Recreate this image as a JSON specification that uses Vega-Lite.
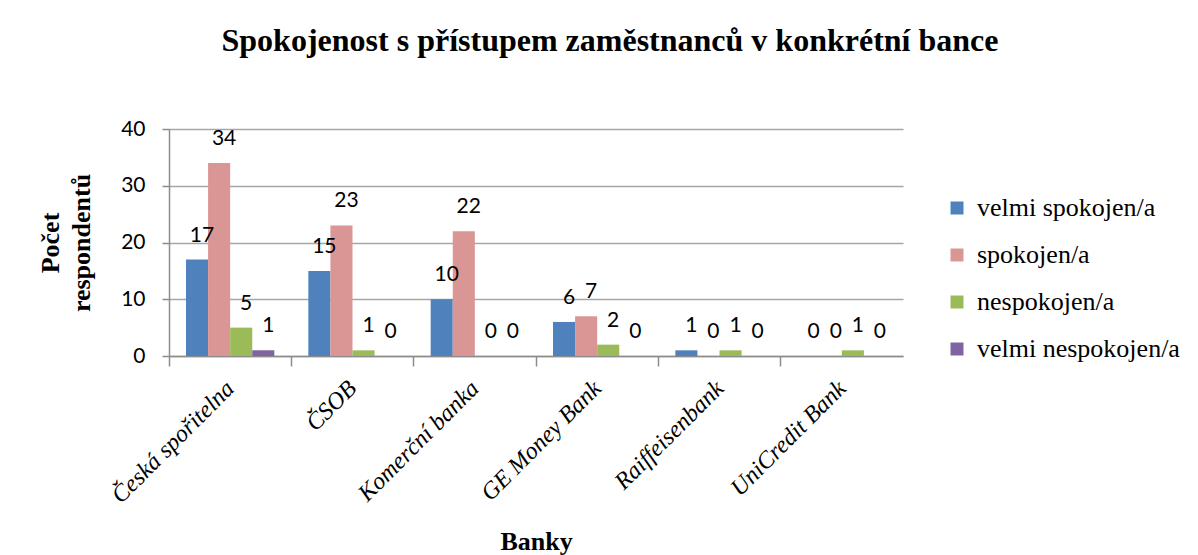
{
  "$schema": "https://vega.github.io/schema/vega-lite/v6.json",
  "width": 734,
  "height": 227,
  "autosize": {"type": "none"},
  "padding": {"left": 169, "top": 129, "right": 295, "bottom": 199},
  "background": "white",
  "title": {
    "text": "Spokojenost s přístupem zaměstnanců v konkrétní bance",
    "font": "Liberation Serif",
    "fontSize": 32,
    "fontWeight": "bold",
    "color": "black",
    "anchor": "middle",
    "dx": 74,
    "offset": 60
  },
  "data": {
    "values": [
      {"bank": "Česká spořitelna", "level": "velmi spokojen/a", "count": 17},
      {"bank": "Česká spořitelna", "level": "spokojen/a", "count": 34},
      {"bank": "Česká spořitelna", "level": "nespokojen/a", "count": 5},
      {"bank": "Česká spořitelna", "level": "velmi nespokojen/a", "count": 1},
      {"bank": "ČSOB", "level": "velmi spokojen/a", "count": 15},
      {"bank": "ČSOB", "level": "spokojen/a", "count": 23},
      {"bank": "ČSOB", "level": "nespokojen/a", "count": 1},
      {"bank": "ČSOB", "level": "velmi nespokojen/a", "count": 0},
      {"bank": "Komerční banka", "level": "velmi spokojen/a", "count": 10},
      {"bank": "Komerční banka", "level": "spokojen/a", "count": 22},
      {"bank": "Komerční banka", "level": "nespokojen/a", "count": 0},
      {"bank": "Komerční banka", "level": "velmi nespokojen/a", "count": 0},
      {"bank": "GE Money Bank", "level": "velmi spokojen/a", "count": 6},
      {"bank": "GE Money Bank", "level": "spokojen/a", "count": 7},
      {"bank": "GE Money Bank", "level": "nespokojen/a", "count": 2},
      {"bank": "GE Money Bank", "level": "velmi nespokojen/a", "count": 0},
      {"bank": "Raiffeisenbank", "level": "velmi spokojen/a", "count": 1},
      {"bank": "Raiffeisenbank", "level": "spokojen/a", "count": 0},
      {"bank": "Raiffeisenbank", "level": "nespokojen/a", "count": 1},
      {"bank": "Raiffeisenbank", "level": "velmi nespokojen/a", "count": 0},
      {"bank": "UniCredit Bank", "level": "velmi spokojen/a", "count": 0},
      {"bank": "UniCredit Bank", "level": "spokojen/a", "count": 0},
      {"bank": "UniCredit Bank", "level": "nespokojen/a", "count": 1},
      {"bank": "UniCredit Bank", "level": "velmi nespokojen/a", "count": 0}
    ]
  },
  "encoding": {
    "x": {
      "field": "bank",
      "type": "nominal",
      "sort": null,
      "scale": {"paddingInner": 0, "paddingOuter": 0}
    },
    "xOffset": {
      "field": "level",
      "type": "nominal",
      "sort": ["velmi spokojen/a", "spokojen/a", "nespokojen/a", "velmi nespokojen/a"],
      "scale": {"paddingInner": 0, "paddingOuter": 0.77}
    },
    "y": {
      "field": "count",
      "type": "quantitative",
      "scale": {"domain": [0, 40]},
      "axis": {
        "title": ["Počet", "respondentů"],
        "titleFont": "Liberation Serif",
        "titleFontSize": 26,
        "titleFontWeight": "bold",
        "titleColor": "black",
        "titlePadding": 26,
        "titleLineHeight": 31,
        "values": [0, 10, 20, 30, 40],
        "labelFont": "Lato",
        "labelFontSize": 21,
        "labelColor": "black",
        "labelPadding": 17,
        "tickSize": 7,
        "tickColor": "#8c8c8c",
        "tickWidth": 1.5,
        "domainColor": "#8c8c8c",
        "domainWidth": 1.5,
        "gridColor": "#a6a6a6",
        "gridWidth": 1.5
      }
    }
  },
  "layer": [
    {
      "mark": {"type": "bar"},
      "encoding": {
        "x": {
          "field": "bank",
          "type": "nominal",
          "sort": null,
          "axis": {
            "orient": "bottom",
            "title": "Banky",
            "titleFont": "Liberation Serif",
            "titleFontSize": 26,
            "titleFontWeight": "bold",
            "titleColor": "black",
            "titleY": 193,
            "titleBaseline": "alphabetic",
            "labelAngle": -45,
            "labelFont": "Liberation Serif",
            "labelFontSize": 24,
            "labelFontStyle": "italic",
            "labelColor": "black",
            "labelPadding": 20,
            "labelOffset": -8,
            "labelLimit": 300,
            "ticks": false,
            "domainColor": "#8c8c8c",
            "domainWidth": 1.5
          }
        },
        "color": {
          "field": "level",
          "type": "nominal",
          "sort": ["velmi spokojen/a", "spokojen/a", "nespokojen/a", "velmi nespokojen/a"],
          "scale": {
            "domain": ["velmi spokojen/a", "spokojen/a", "nespokojen/a", "velmi nespokojen/a"],
            "range": ["#4F81BD", "#D99694", "#9BBB59", "#8064A2"]
          },
          "legend": {
            "title": null,
            "orient": "none",
            "legendX": 775,
            "legendY": 66,
            "symbolType": "square",
            "symbolSize": 169,
            "symbolStrokeWidth": 0,
            "labelFont": "Liberation Serif",
            "labelFontSize": 26,
            "labelColor": "black",
            "labelLimit": 0,
            "rowPadding": 21,
            "labelOffset": 7
          }
        }
      }
    },
    {
      "mark": {"type": "text", "font": "Lato", "fontSize": 21, "baseline": "bottom", "dy": -14, "dx": 5, "color": "black"},
      "encoding": {
        "text": {"field": "count", "type": "quantitative"},
        "x": {
          "field": "bank",
          "type": "nominal",
          "sort": null,
          "axis": {
            "orient": "bottom",
            "title": null,
            "labels": false,
            "bandPosition": 0,
            "ticks": true,
            "tickSize": 10,
            "tickColor": "#8c8c8c",
            "tickWidth": 1.5,
            "domain": false,
            "grid": false
          }
        }
      }
    }
  ],
  "resolve": {"axis": {"x": "independent"}},
  "config": {
    "view": {"stroke": null},
    "axisX": {"grid": false},
    "legend": {"labelFont": "Liberation Serif", "labelLimit": 0}
  }
}
